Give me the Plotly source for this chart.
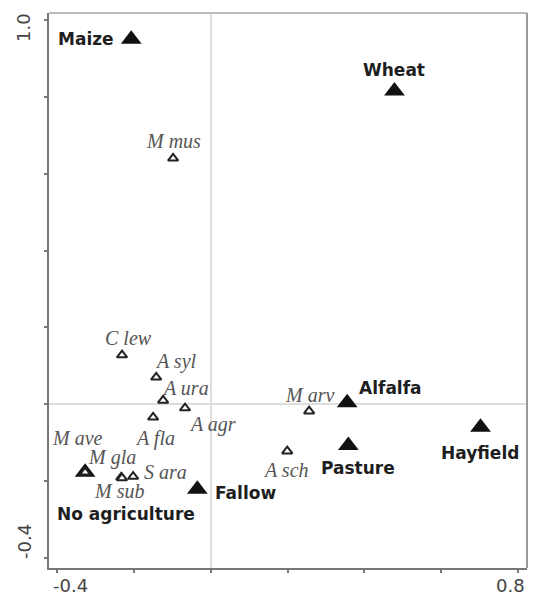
import plotly.graph_objects as go

# Land-use centroids (ordination scores)
land_names = ["Maize", "Wheat", "Alfalfa", "Pasture", "Hayfield", "Fallow", "No agriculture"]
land_x = [-0.207, 0.478, 0.355, 0.358, 0.702, -0.035, -0.327]
land_y = [0.950, 0.815, 0.004, -0.107, -0.060, -0.221, -0.177]

# Species scores
sp_names = ["M mus", "C lew", "A syl", "A ura", "A agr", "A fla", "M ave",
            "M gla", "S ara", "M sub", "M arv", "A sch"]
sp_x = [-0.098, -0.231, -0.142, -0.124, -0.067, -0.150, -0.327,
        -0.233, -0.202, -0.231, 0.256, 0.199]
sp_y = [0.640, 0.128, 0.070, 0.010, -0.010, -0.034, -0.177,
        -0.190, -0.188, -0.192, -0.018, -0.122]

x_ticks = [-0.4, -0.2, 0.0, 0.2, 0.4, 0.6, 0.8]
y_ticks = [-0.4, -0.2, 0.0, 0.2, 0.4, 0.6, 0.8, 1.0]
x_tick_labels = {-0.4: "-0.4", 0.8: "0.8"}
y_tick_labels = {1.0: "1.0", -0.4: "-0.4"}

# label placement (pixel offsets from each marker, anchor)
land_label_style = {
    "Maize": (-15, 0, "right"),
    "Wheat": (0, 21, "center"),
    "Alfalfa": (10, 15, "left"),
    "Pasture": (10, -23, "center"),
    "Hayfield": (-1, -26, "center"),
    "Fallow": (16, -4, "left"),
    "No agriculture": (41, -42, "center"),
}
sp_label_style = {
    "M mus": (0, 17), "C lew": (6, 17), "A syl": (20, 16), "A ura": (22, 12),
    "A agr": (27, -16), "A fla": (2, -21), "M ave": (-8, 34), "M gla": (-9, 20),
    "S ara": (32, 5), "M sub": (-3, -13), "M arv": (0, 16), "A sch": (-1, -19),
}

fig = go.Figure()

fig.add_trace(go.Scatter(
    x=land_x, y=land_y, mode="markers",
    marker=dict(symbol="triangle-up", size=18, color="#111111",
                line=dict(width=0)),
    hoverinfo="skip", showlegend=False,
))
fig.add_trace(go.Scatter(
    x=sp_x, y=sp_y, mode="markers",
    marker=dict(symbol="triangle-up", size=9, color="white",
                line=dict(width=2, color="#222222")),
    hoverinfo="skip", showlegend=False,
))

annotations = []
for name, x, y in zip(land_names, land_x, land_y):
    dx, dy, anchor = land_label_style[name]
    annotations.append(dict(
        x=x, y=y, xref="x", yref="y", text=f"<b>{name}</b>", showarrow=False,
        xshift=dx, yshift=dy, xanchor=anchor, yanchor="middle",
        font=dict(family="DejaVu Sans", size=17, color="#1e1e1e"),
    ))
for name, x, y in zip(sp_names, sp_x, sp_y):
    dx, dy = sp_label_style[name]
    annotations.append(dict(
        x=x, y=y, xref="x", yref="y", text=f"<i>{name}</i>", showarrow=False,
        xshift=dx, yshift=dy, xanchor="center", yanchor="middle",
        font=dict(family="Liberation Serif", size=20, color="#555555"),
    ))

tick_font = dict(family="DejaVu Sans", size=18, color="#444444")
for v, t in x_tick_labels.items():
    annotations.append(dict(
        x=v, y=0, xref="x", yref="paper", text=t, showarrow=False,
        xshift=13 if v < 0 else -8, yshift=-17,
        xanchor="center", yanchor="middle", font=tick_font,
    ))
for v, t in y_tick_labels.items():
    annotations.append(dict(
        x=0, y=v, xref="paper", yref="y", text=t, showarrow=False,
        xshift=-25, yshift=-8 if v > 0 else 16, textangle=-90,
        xanchor="center", yanchor="middle", font=tick_font,
    ))

axis_common = dict(
    showgrid=False, showticklabels=False,
    ticks="outside", ticklen=3, tickwidth=1.5, tickcolor="#777777",
    showline=True, linecolor="#777777", linewidth=2,
    zeroline=True, zerolinecolor="#dddddd", zerolinewidth=2,
    mirror=False, fixedrange=True,
)

fig.update_layout(
    width=533, height=598,
    margin=dict(l=49, r=6, t=13, b=30),
    paper_bgcolor="white", plot_bgcolor="white",
    xaxis=dict(range=[-0.421, 0.823], tickvals=x_ticks, **axis_common),
    yaxis=dict(range=[-0.426, 1.018], tickvals=y_ticks, **axis_common),
    annotations=annotations,
    shapes=[
        dict(type="line", xref="paper", yref="paper", x0=0, x1=1, y0=1, y1=1,
             line=dict(color="#bbbbbb", width=2)),
        dict(type="line", xref="paper", yref="paper", x0=1, x1=1, y0=0, y1=1,
             line=dict(color="#999999", width=2)),
    ],
)

fig.write_html("out.html")
